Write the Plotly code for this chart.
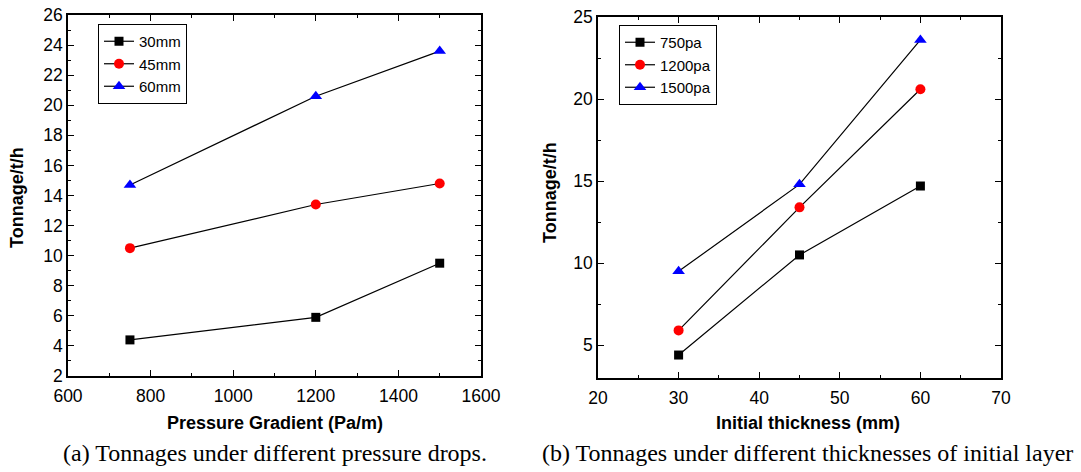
import plotly.graph_objects as go

W, H = 1081, 472

# ---- data (a) ----
pressure = [750, 1200, 1500]
t30 = [4.4, 5.9, 9.5]
t45 = [10.5, 13.4, 14.8]
t60 = [14.7, 20.6, 23.6]
names_a = ["30mm", "45mm", "60mm"]

# ---- data (b) ----
thickness = [30, 45, 60]
p750 = [4.4, 10.5, 14.7]
p1200 = [5.9, 13.4, 20.6]
p1500 = [9.5, 14.8, 23.6]
names_b = ["750pa", "1200pa", "1500pa"]

colors = ["black", "red", "blue"]
symbols = ["square", "circle", "triangle-up"]
sizes = [9, 10, 11]

fig = go.Figure()
for ys, nm, c, s, sz in zip([t30, t45, t60], names_a, colors, symbols, sizes):
    fig.add_trace(go.Scatter(x=pressure, y=ys, name=nm, mode="lines+markers",
                             line=dict(color="black", width=1.2),
                             marker=dict(color=c, symbol=s, size=sz),
                             xaxis="x", yaxis="y", legend="legend"))
for ys, nm, c, s, sz in zip([p750, p1200, p1500], names_b, colors, symbols, sizes):
    fig.add_trace(go.Scatter(x=thickness, y=ys, name=nm, mode="lines+markers",
                             line=dict(color="black", width=1.2),
                             marker=dict(color=c, symbol=s, size=sz),
                             xaxis="x2", yaxis="y2", legend="legend2"))

def px_x(p):
    return p / W

def px_y(p):
    return 1 - p / H

tickfont = dict(family="Liberation Sans, Arial, sans-serif", size=17.5, color="black")
axcommon = dict(showline=True, linecolor="black", linewidth=1.5, mirror="ticks",
                ticks="inside", ticklen=6, tickwidth=1.2, tickcolor="black",
                showgrid=False, zeroline=False, tickfont=tickfont, automargin=False)
legfont = dict(family="Liberation Sans, Arial, sans-serif", size=15, color="black")

fig.update_layout(
    width=W, height=H, autosize=False,
    margin=dict(l=0, r=0, t=0, b=0, pad=0, autoexpand=False),
    paper_bgcolor="white", plot_bgcolor="white",
    xaxis=dict(domain=[px_x(68), px_x(481)], range=[600, 1600], dtick=200,
               minor=dict(dtick=100, ticks="inside", ticklen=3, tickcolor="black"),
               anchor="y", ticklabelstandoff=3, **axcommon),
    yaxis=dict(domain=[px_y(376), px_y(15)], range=[2, 26], dtick=2,
               minor=dict(dtick=1, ticks="inside", ticklen=3, tickcolor="black"),
               anchor="x", **axcommon),
    xaxis2=dict(domain=[px_x(598), px_x(1001)], range=[20, 70], dtick=10,
                minor=dict(dtick=5, ticks="inside", ticklen=3, tickcolor="black"),
                anchor="y2", ticklabelstandoff=3, **axcommon),
    yaxis2=dict(domain=[px_y(378), px_y(17)], range=[3, 25], tick0=0, dtick=5,
                minor=dict(dtick=2.5, ticks="inside", ticklen=3, tickcolor="black"),
                anchor="x2", **axcommon),
    legend=dict(x=px_x(98), y=px_y(24), xanchor="left", yanchor="top",
                bordercolor="black", borderwidth=1, bgcolor="white",
                font=legfont, tracegroupgap=0, itemwidth=30),
    legend2=dict(x=px_x(619), y=px_y(25), xanchor="left", yanchor="top",
                 bordercolor="black", borderwidth=1, bgcolor="white",
                 font=legfont, tracegroupgap=0, itemwidth=30),
    showlegend=True,
)

titlefont = dict(family="Liberation Sans, Arial, sans-serif", size=18, color="black")
capfont = dict(family="Liberation Serif, Times New Roman, serif", size=24, color="black")
ann = [
    dict(text="<b>Tonnage/t/h</b>", x=px_x(17), y=px_y(198), textangle=-90, font=titlefont),
    dict(text="<b>Pressure Gradient (Pa/m)</b>", x=px_x(275), y=px_y(423), font=titlefont),
    dict(text="(a) Tonnages under different pressure drops.", x=px_x(275), y=px_y(453), font=capfont),
    dict(text="<b>Tonnage/t/h</b>", x=px_x(550), y=px_y(193), textangle=-90, font=titlefont),
    dict(text="<b>Initial thickness (mm)</b>", x=px_x(808), y=px_y(423), font=titlefont),
    dict(text="(b) Tonnages under different thicknesses of initial layer", x=px_x(807), y=px_y(453), font=capfont),
]
for a in ann:
    fig.add_annotation(xref="paper", yref="paper", showarrow=False,
                       xanchor="center", yanchor="middle", **a)

fig.write_html("out.html")
